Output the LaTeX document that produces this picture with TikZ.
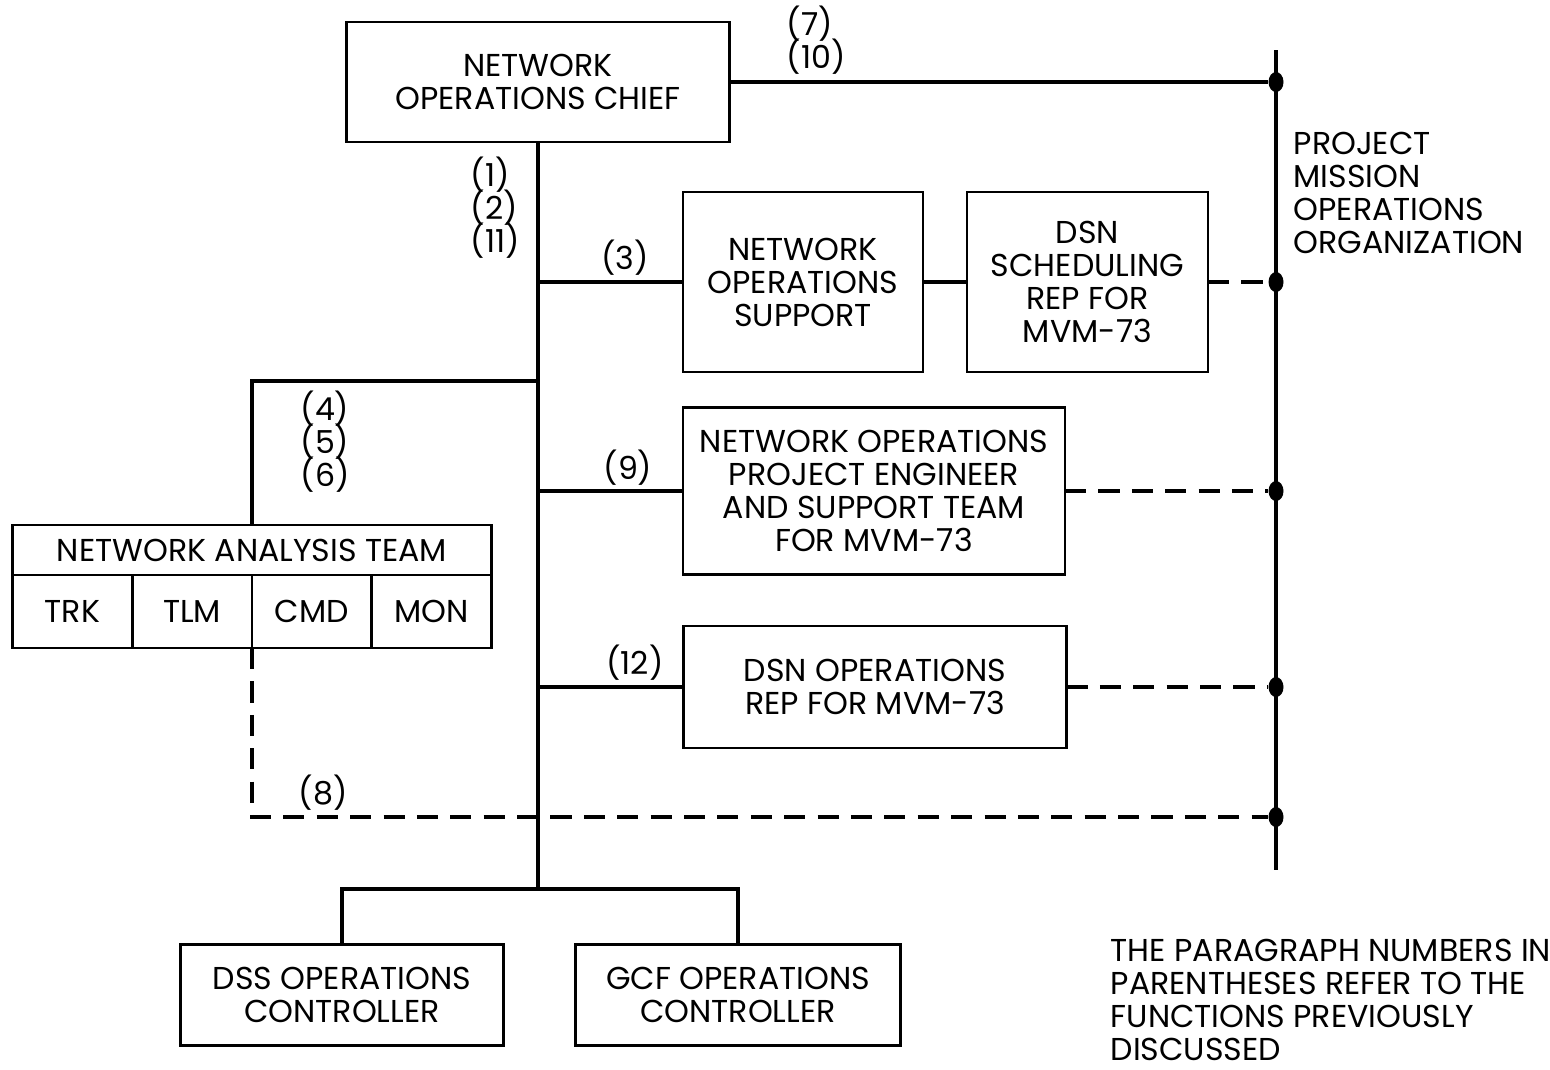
\documentclass[tikz,border=0pt]{standalone}
\usepackage{fontspec}
\setmainfont{Poppins}
\usetikzlibrary{positioning,shapes.geometric}
\newcommand{\orgfont}{\fontsize{9}{9.4}\selectfont\lineskiplimit=-6pt}

\begin{document}
\begin{tikzpicture}[x=0.1mm, y=-0.1mm,
    orgbox/.style={rectangle, draw, line width=0.8pt, outer sep=0pt,
        inner sep=0pt, align=center, font=\orgfont},
    link/.style={line width=1.1pt},
    dashlink/.style={line width=1.1pt, dash pattern=on 6pt off 3.5pt},
    busdot/.style={ellipse, fill, inner sep=0pt, minimum width=1.5mm, minimum height=2mm},
    parnum/.style={font=\orgfont, align=left, inner sep=0pt}
]
\useasboundingbox (0,0) rectangle (1550,1069);

\node[orgbox, minimum width=38.3mm, minimum height=12mm] (chief) at (538,82) {NETWORK\\OPERATIONS CHIEF};
\node[orgbox, minimum width=24mm, minimum height=18mm] (nosup) at (803,282) {NETWORK\\OPERATIONS\\SUPPORT};
\node[orgbox, minimum width=24.1mm, minimum height=18mm, right=4.4mm of nosup] (dsnsched) {DSN\\SCHEDULING\\REP FOR\\MVM-73};
\node[orgbox, minimum width=38.2mm, minimum height=16.7mm] (nope) at (874,491) {NETWORK OPERATIONS\\PROJECT ENGINEER\\AND SUPPORT TEAM\\FOR MVM-73};
\node[orgbox, minimum width=38.3mm, minimum height=12.2mm] (dsnops) at (875,687) {DSN OPERATIONS\\REP FOR MVM-73};
\node[orgbox, minimum width=32.3mm, minimum height=10.1mm] (dss) at (342,995) {DSS OPERATIONS\\CONTROLLER};
\node[orgbox, minimum width=32.5mm, minimum height=10.1mm] (gcf) at (738,995) {GCF OPERATIONS\\CONTROLLER};

% analysis team with its four cells
\node[orgbox, minimum width=47.9mm, minimum height=5mm] (nat) at (252,550) {NETWORK ANALYSIS TEAM};
\node[orgbox, minimum width=11.975mm, minimum height=7.3mm, anchor=north west] (trk) at (nat.south west) {TRK};
\node[orgbox, minimum width=11.975mm, minimum height=7.3mm, right=0mm of trk] (tlm) {TLM};
\node[orgbox, minimum width=11.975mm, minimum height=7.3mm, right=0mm of tlm] (cmd) {CMD};
\node[orgbox, minimum width=11.975mm, minimum height=7.3mm, right=0mm of cmd] (mon) {MON};

% project bus
\coordinate (bustop) at (1276,50);
\coordinate (busbot) at (1276,870);
\draw[link, line width=1.3pt] (bustop) -- (busbot);
\node[busdot] (dot1) at (chief.east -| bustop) {};
\node[busdot] (dot2) at (dsnsched.east -| bustop) {};
\node[busdot] (dot3) at (nope.east -| bustop) {};
\node[busdot] (dot4) at (dsnops.east -| bustop) {};
\node[busdot] (dot5) at (1276,817) {};

% trunk
\coordinate (natjoin) at (538,381);
\coordinate (trunkbot) at (538,889);
\draw[link] (chief.south) -- (trunkbot);
\draw[link] (chief.east) -- (dot1);
\draw[link] (nosup.west -| chief.south) -- (nosup.west);
\draw[link] (nosup) -- (dsnsched);
\draw[dashlink] (dsnsched.east) -- (dot2);
\draw[link] (natjoin) -| (nat.north);
\draw[link] (nope.west -| chief.south) -- (nope.west);
\draw[dashlink] (nope.east) -- (dot3);
\draw[link] (dsnops.west -| chief.south) -- (dsnops.west);
\draw[dashlink] (dsnops.east) -- (dot4);
\draw[dashlink] (tlm.south east) |- (dot5);
\draw[link] (dss.north) |- (trunkbot) -| (gcf.north);

% paragraph numbers
\node[parnum, anchor=west] (p7) at (786,40) {(7)\\(10)};
\node[parnum, anchor=west] (p1) at (470,208) {(1)\\(2)\\(11)};
\node[parnum] (p3) at (625,258) {(3)};
\node[parnum, anchor=west] (p4) at (300,442) {(4)\\(5)\\(6)};
\node[parnum] (p9) at (628,468) {(9)};
\node[parnum] (p12) at (635,663) {(12)};
\node[parnum, anchor=west] (p8) at (298,793) {(8)};

\node[parnum, anchor=west] (pmo) at (1293,193) {PROJECT\\MISSION\\OPERATIONS\\ORGANIZATION};
\node[parnum, anchor=west] (note) at (1110,1000) {THE PARAGRAPH NUMBERS IN\\PARENTHESES REFER TO THE\\FUNCTIONS PREVIOUSLY\\DISCUSSED};
\end{tikzpicture}
\end{document}
